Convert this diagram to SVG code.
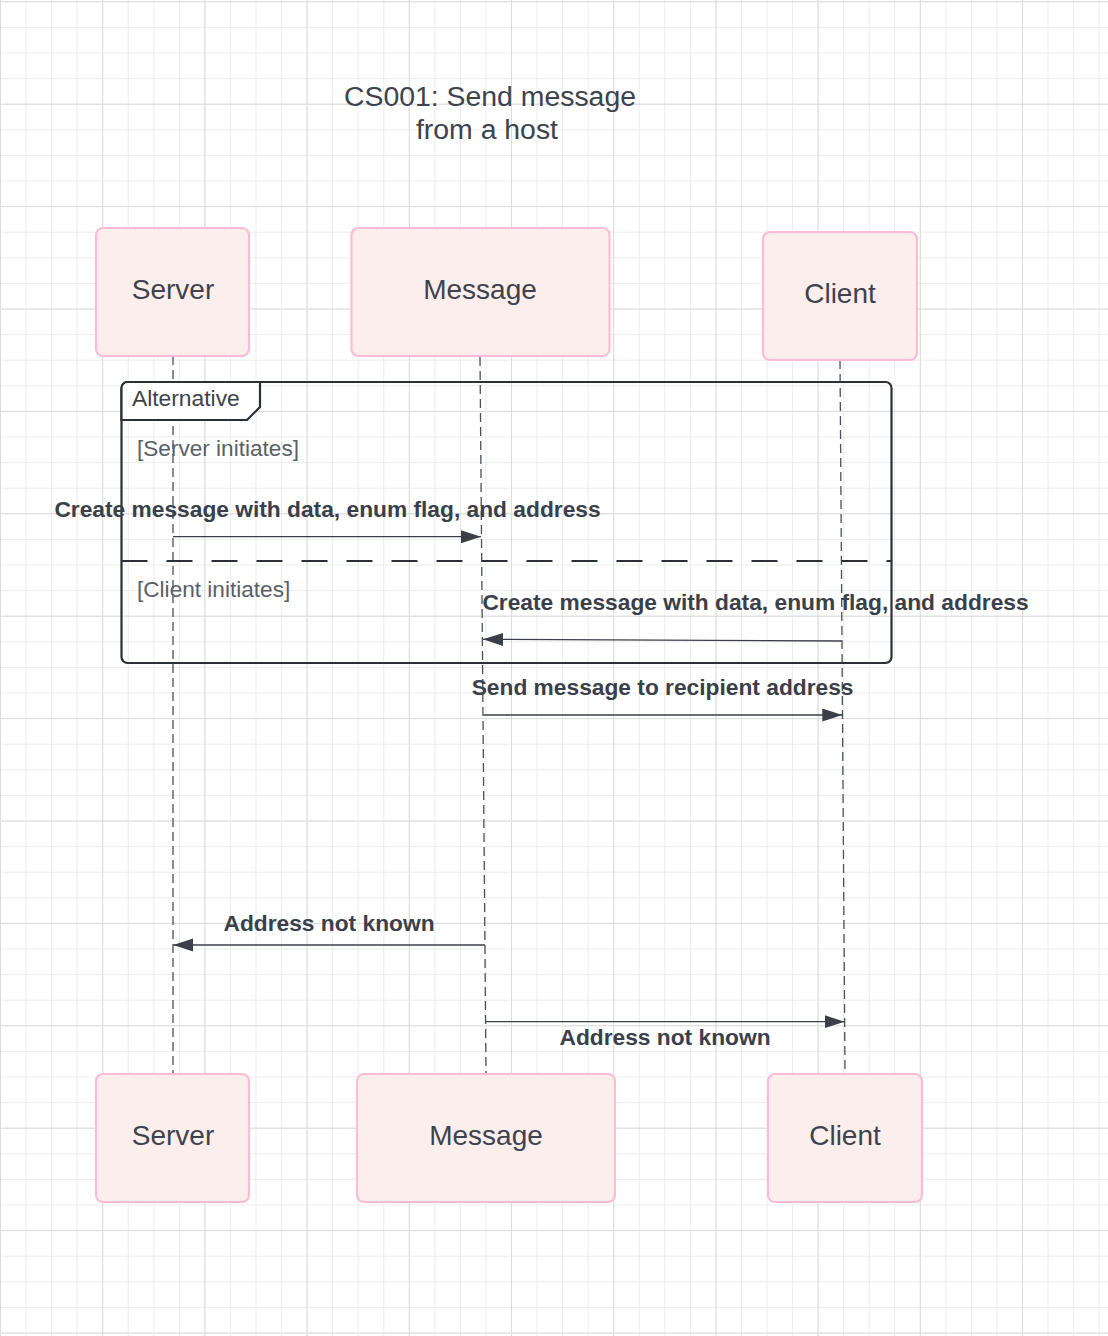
<svg xmlns="http://www.w3.org/2000/svg" width="1108" height="1336" viewBox="0 0 1108 1336">
<style>
text{font-family:"Liberation Sans",Arial,sans-serif;fill:#3d434c}
.node rect{fill:#fdeeee;stroke:#fdbcd6;stroke-width:2.2}
.nl{font-size:28px;text-anchor:middle}
.life{stroke:#4a4f58;stroke-width:1.3;stroke-dasharray:9 5;fill:none}
.msg{stroke:#3a3f48;stroke-width:1.3;fill:none;marker-end:url(#ah)}
.ml{font-size:22.75px;font-weight:bold;fill:#3a404a}
.guard{font-size:22.6px;fill:#5a5f68}
</style>
<defs>
<pattern id="minor" x="0" y="1.3" width="25.55" height="25.6" patternUnits="userSpaceOnUse">
<path d="M0.5,0V25.6M0,0.5H25.55" stroke="#ececec" stroke-width="1" fill="none"/>
</pattern>
<pattern id="major" x="0" y="1.3" width="102.2" height="102.4" patternUnits="userSpaceOnUse">
<path d="M0.5,0V102.4M0,0.5H102.2" stroke="#dcdcdc" stroke-width="1" fill="none"/>
</pattern>
<marker id="ah" markerUnits="userSpaceOnUse" markerWidth="21" markerHeight="14" refX="20" refY="6.5" orient="auto">
<path d="M0,0L20,6.5L0,13z" fill="#3a3f48"/>
</marker>
</defs>
<rect width="1108" height="1336" fill="#fff"/>
<rect width="1108" height="1336" fill="url(#minor)"/>
<rect width="1108" height="1336" fill="url(#major)"/>

<g id="title">
<text x="490" y="106" font-size="28.4" text-anchor="middle">CS001: Send message</text>
<text x="487" y="139" font-size="28.4" text-anchor="middle">from a host</text>
</g>

<g id="lifelines">
<path class="life" d="M173,356V1074"/>
<path class="life" d="M480,357L486,1074"/>
<path class="life" d="M840,360L845,1074"/>
</g>

<g id="alt-frame">
<rect x="121.5" y="382" width="770" height="281" rx="6" fill="none" stroke="#2b2f36" stroke-width="2.2"/>
<path d="M121.5,420H247L260,407V382H127.5A6,6 0 0 0 121.5,388Z" fill="#fff" stroke="#2b2f36" stroke-width="2.2"/>
<text x="132" y="406" font-size="22.8">Alternative</text>
<text class="guard" x="137" y="456">[Server initiates]</text>
<path d="M121.5,561H891" stroke="#2b2f36" stroke-width="2.2" stroke-dasharray="26 19"/>
<text class="guard" x="137" y="597">[Client initiates]</text>
</g>

<g id="node-server-top" class="node"><rect x="96" y="228" width="153" height="128" rx="7"/><text class="nl" x="173" y="299">Server</text></g>
<g id="node-message-top" class="node"><rect x="351.5" y="228" width="258" height="128" rx="7"/><text class="nl" x="480" y="299">Message</text></g>
<g id="node-client-top" class="node"><rect x="763" y="232" width="154" height="128" rx="7"/><text class="nl" x="840" y="303">Client</text></g>
<g id="node-server-bottom" class="node"><rect x="96" y="1074" width="153" height="128" rx="7"/><text class="nl" x="173" y="1145">Server</text></g>
<g id="node-message-bottom" class="node"><rect x="357" y="1074" width="258" height="128" rx="7"/><text class="nl" x="486" y="1145">Message</text></g>
<g id="node-client-bottom" class="node"><rect x="768" y="1074" width="154" height="128" rx="7"/><text class="nl" x="845" y="1145">Client</text></g>

<g id="connectors">
<path class="msg" d="M173,536.7H481"/>
<text class="ml" x="327.5" y="517" text-anchor="middle">Create message with data, enum flag, and address</text>
<path class="msg" d="M841.7,641L483,639.3"/>
<text class="ml" x="755.5" y="610" text-anchor="middle">Create message with data, enum flag, and address</text>
<path class="msg" d="M483.5,715H842.3"/>
<text class="ml" x="662.6" y="695" text-anchor="middle">Send message to recipient address</text>
<path class="msg" d="M485,945H173.3"/>
<text class="ml" x="329" y="931" text-anchor="middle">Address not known</text>
<path class="msg" d="M486,1021.7H844.5"/>
<text class="ml" x="665" y="1045" text-anchor="middle">Address not known</text>
</g>
</svg>
